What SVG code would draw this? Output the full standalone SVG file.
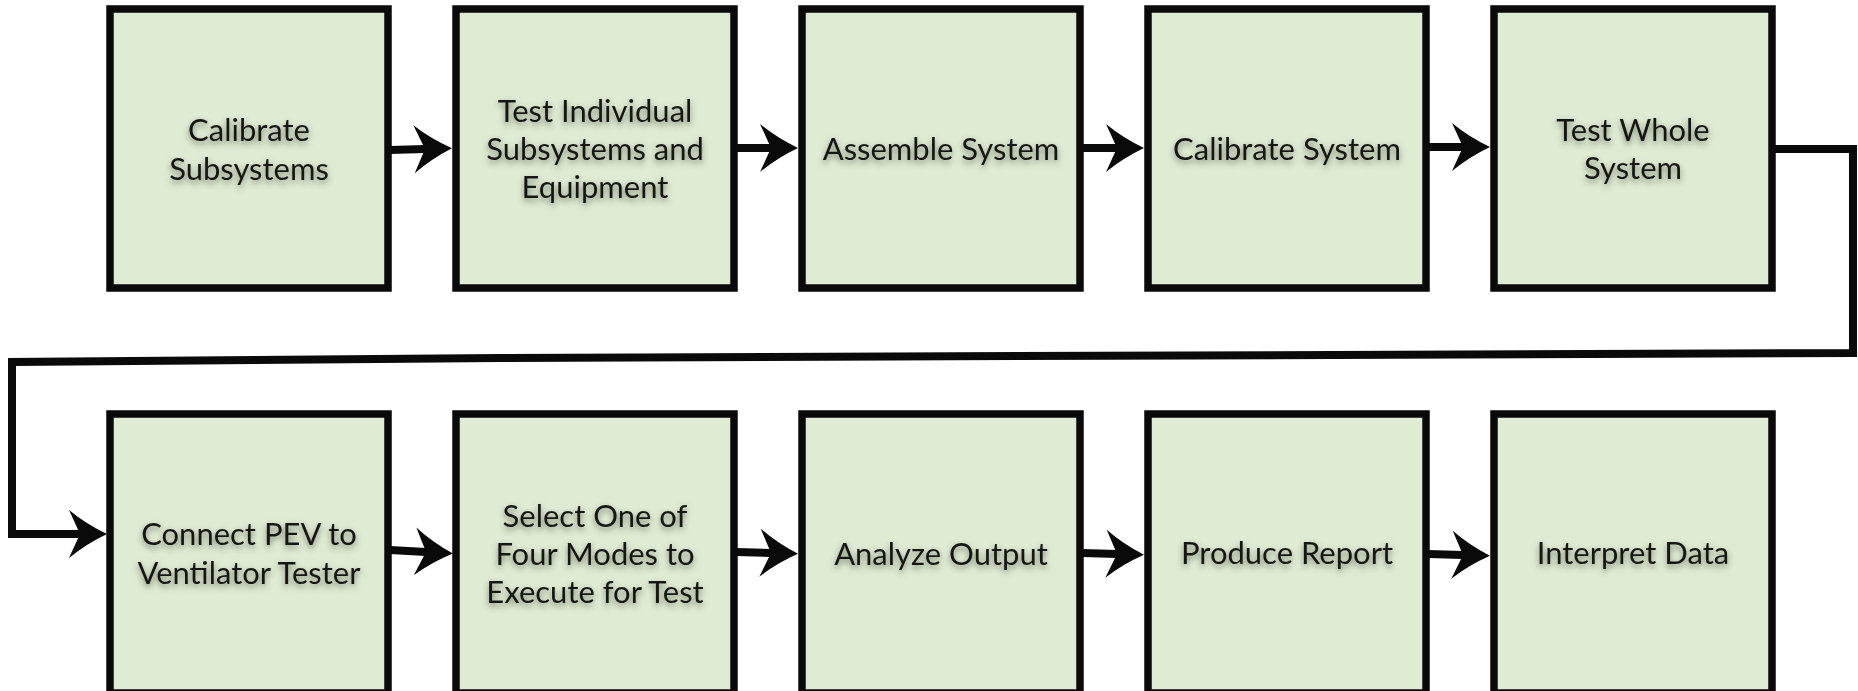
<svg xmlns="http://www.w3.org/2000/svg" width="1858" height="691" viewBox="0 0 1858 691">
<style>
.box{fill:#e0ebd4;stroke:#0a0a0a;stroke-width:7.5}
.lbl{font-family:Lato,"Liberation Sans",sans-serif;font-size:31px;fill:#151515;text-anchor:middle;filter:url(#sh)}
.conn{fill:none;stroke:#0a0a0a;stroke-width:8;stroke-linejoin:miter}
</style>
<defs>
<filter id="sh" x="-20%" y="-60%" width="140%" height="220%">
<feGaussianBlur in="SourceAlpha" stdDeviation="3.2"/>
<feOffset dy="3" result="b"/>
<feFlood flood-color="#344226" flood-opacity="0.65"/>
<feComposite in2="b" operator="in"/>
<feMerge><feMergeNode/><feMergeNode in="SourceGraphic"/></feMerge>
</filter>
<marker id="ah" viewBox="0 0 38 48" refX="11" refY="24" markerWidth="38" markerHeight="48" markerUnits="userSpaceOnUse" orient="auto">
<path d="M38,24 Q17,14 0,0 L11,24 L0,48 Q17,34 38,24 Z" fill="#0a0a0a"/>
</marker>
</defs>
<rect width="1858" height="691" fill="#ffffff"/>
<g id="n1"><rect class="box" x="110" y="9" width="278" height="279"/><text class="lbl" x="249" y="141">Calibrate</text><text class="lbl" x="249" y="180">Subsystems</text></g>
<g id="n2"><rect class="box" x="456" y="9" width="278" height="279"/><text class="lbl" x="595" y="122">Test Individual</text><text class="lbl" x="595" y="160">Subsystems and</text><text class="lbl" x="595" y="198">Equipment</text></g>
<g id="n3"><rect class="box" x="802" y="9" width="278" height="279"/><text class="lbl" x="941" y="160">Assemble System</text></g>
<g id="n4"><rect class="box" x="1148" y="9" width="278" height="279"/><text class="lbl" x="1287" y="160">Calibrate System</text></g>
<g id="n5"><rect class="box" x="1494" y="9" width="278" height="279"/><text class="lbl" x="1633" y="141">Test Whole</text><text class="lbl" x="1633" y="179">System</text></g>
<g id="n6"><rect class="box" x="110" y="414" width="278" height="279"/><text class="lbl" x="249" y="545">Connect PEV to</text><text class="lbl" x="249" y="584">Ventilator Tester</text></g>
<g id="n7"><rect class="box" x="456" y="414" width="278" height="279"/><text class="lbl" x="595" y="527">Select One of</text><text class="lbl" x="595" y="565">Four Modes to</text><text class="lbl" x="595" y="603">Execute for Test</text></g>
<g id="n8"><rect class="box" x="802" y="414" width="278" height="279"/><text class="lbl" x="941" y="565">Analyze Output</text></g>
<g id="n9"><rect class="box" x="1148" y="414" width="278" height="279"/><text class="lbl" x="1287" y="564">Produce Report</text></g>
<g id="n10"><rect class="box" x="1494" y="414" width="278" height="279"/><text class="lbl" x="1633" y="564">Interpret Data</text></g>
<g id="connectors">
<path class="conn" d="M390,150 L425,149" marker-end="url(#ah)"/>
<path class="conn" d="M736,148 L771,148" marker-end="url(#ah)"/>
<path class="conn" d="M1082,148 L1117,148" marker-end="url(#ah)"/>
<path class="conn" d="M1428,147 L1463,147" marker-end="url(#ah)"/>
<path class="conn" d="M1774,149 H1853 V353 L500,358 L12,362 V534 H80" marker-end="url(#ah)"/>
<path class="conn" d="M390,550 L426,552" marker-end="url(#ah)"/>
<path class="conn" d="M736,552 L771,553" marker-end="url(#ah)"/>
<path class="conn" d="M1082,553 L1117,554" marker-end="url(#ah)"/>
<path class="conn" d="M1428,554 L1463,555" marker-end="url(#ah)"/>
</g>
</svg>
